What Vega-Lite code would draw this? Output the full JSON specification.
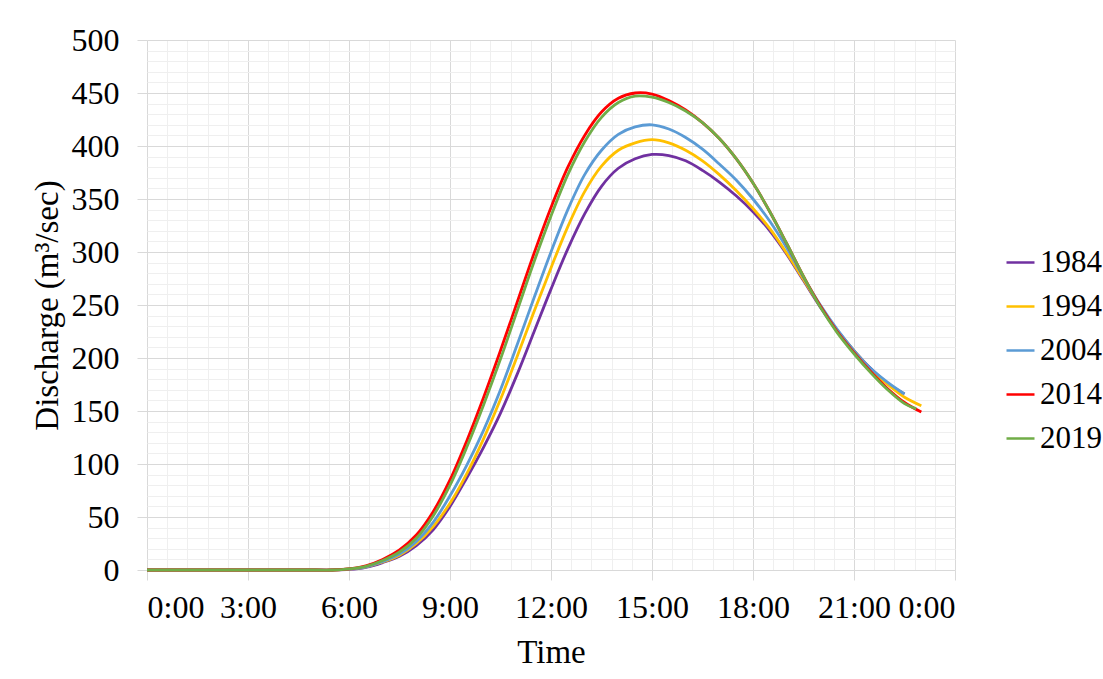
{
  "$schema": "https://vega.github.io/schema/vega-lite/v6.json",
  "autosize": {"type": "none"},
  "width": 808,
  "height": 530,
  "padding": {"left": 147, "top": 40, "right": 148, "bottom": 109},
  "background": "white",
  "config": {
    "view": {"stroke": null},
    "font": "Liberation Serif",
    "axis": {"labelFont": "Liberation Serif", "titleFont": "Liberation Serif", "labelColor": "#000", "titleColor": "#000", "labelFontSize": 32, "titleFontSize": 33, "titleFontWeight": "normal", "domain": false, "tickColor": "#d9d9d9", "tickSize": 10, "labelOverlap": false, "labelBound": false}
  },
  "data": {"values": [
    {"y":"1984","t":0,"q":0},{"y":"1984","t":5,"q":0},{"y":"1984","t":5.5,"q":0},{"y":"1984","t":6,"q":0.5},{"y":"1984","t":6.5,"q":2.5},{"y":"1984","t":7,"q":7},{"y":"1984","t":7.5,"q":13},{"y":"1984","t":8,"q":23},{"y":"1984","t":8.5,"q":38},{"y":"1984","t":9,"q":60},{"y":"1984","t":9.5,"q":87},{"y":"1984","t":10,"q":116},{"y":"1984","t":10.5,"q":148},{"y":"1984","t":11,"q":185},{"y":"1984","t":11.5,"q":225},{"y":"1984","t":12,"q":265},{"y":"1984","t":12.5,"q":303},{"y":"1984","t":13,"q":336},{"y":"1984","t":13.5,"q":362},{"y":"1984","t":14,"q":379},{"y":"1984","t":14.5,"q":388},{"y":"1984","t":15,"q":392},{"y":"1984","t":15.5,"q":391},{"y":"1984","t":16,"q":386},{"y":"1984","t":16.5,"q":377},{"y":"1984","t":17,"q":366},{"y":"1984","t":17.5,"q":353},{"y":"1984","t":18,"q":338},{"y":"1984","t":18.5,"q":320},{"y":"1984","t":19,"q":298},{"y":"1984","t":19.5,"q":273},{"y":"1984","t":20,"q":248},{"y":"1984","t":20.5,"q":226},{"y":"1984","t":21,"q":207},{"y":"1984","t":21.5,"q":190},{"y":"1984","t":22,"q":176},{"y":"1984","t":22.5,"q":166},
    {"y":"1994","t":0,"q":0},{"y":"1994","t":5,"q":0},{"y":"1994","t":5.5,"q":0},{"y":"1994","t":6,"q":1},{"y":"1994","t":6.5,"q":3},{"y":"1994","t":7,"q":7.5},{"y":"1994","t":7.5,"q":14},{"y":"1994","t":8,"q":25},{"y":"1994","t":8.5,"q":41},{"y":"1994","t":9,"q":63},{"y":"1994","t":9.5,"q":91},{"y":"1994","t":10,"q":124},{"y":"1994","t":10.5,"q":161},{"y":"1994","t":11,"q":202},{"y":"1994","t":11.5,"q":244},{"y":"1994","t":12,"q":285},{"y":"1994","t":12.5,"q":324},{"y":"1994","t":13,"q":357},{"y":"1994","t":13.5,"q":381},{"y":"1994","t":14,"q":396},{"y":"1994","t":14.5,"q":403},{"y":"1994","t":15,"q":406},{"y":"1994","t":15.5,"q":403},{"y":"1994","t":16,"q":396},{"y":"1994","t":16.5,"q":386},{"y":"1994","t":17,"q":373},{"y":"1994","t":17.5,"q":358},{"y":"1994","t":18,"q":341},{"y":"1994","t":18.5,"q":322},{"y":"1994","t":19,"q":299},{"y":"1994","t":19.5,"q":274},{"y":"1994","t":20,"q":249},{"y":"1994","t":20.5,"q":226},{"y":"1994","t":21,"q":207},{"y":"1994","t":21.5,"q":189},{"y":"1994","t":22,"q":175},{"y":"1994","t":22.5,"q":163},{"y":"1994","t":23,"q":155},
    {"y":"2004","t":0,"q":0},{"y":"2004","t":5,"q":0},{"y":"2004","t":5.5,"q":0},{"y":"2004","t":6,"q":1},{"y":"2004","t":6.5,"q":3},{"y":"2004","t":7,"q":8},{"y":"2004","t":7.5,"q":15},{"y":"2004","t":8,"q":27},{"y":"2004","t":8.5,"q":45},{"y":"2004","t":9,"q":70},{"y":"2004","t":9.5,"q":99},{"y":"2004","t":10,"q":132},{"y":"2004","t":10.5,"q":170},{"y":"2004","t":11,"q":213},{"y":"2004","t":11.5,"q":257},{"y":"2004","t":12,"q":300},{"y":"2004","t":12.5,"q":340},{"y":"2004","t":13,"q":373},{"y":"2004","t":13.5,"q":396},{"y":"2004","t":14,"q":411},{"y":"2004","t":14.5,"q":418},{"y":"2004","t":15,"q":420},{"y":"2004","t":15.5,"q":416},{"y":"2004","t":16,"q":408},{"y":"2004","t":16.5,"q":397},{"y":"2004","t":17,"q":383},{"y":"2004","t":17.5,"q":368},{"y":"2004","t":18,"q":350},{"y":"2004","t":18.5,"q":329},{"y":"2004","t":19,"q":304},{"y":"2004","t":19.5,"q":276},{"y":"2004","t":20,"q":250},{"y":"2004","t":20.5,"q":227},{"y":"2004","t":21,"q":207},{"y":"2004","t":21.5,"q":190},{"y":"2004","t":22,"q":177},{"y":"2004","t":22.5,"q":166},
    {"y":"2014","t":0,"q":0},{"y":"2014","t":5,"q":0},{"y":"2014","t":5.5,"q":0},{"y":"2014","t":6,"q":1},{"y":"2014","t":6.5,"q":4},{"y":"2014","t":7,"q":10},{"y":"2014","t":7.5,"q":19},{"y":"2014","t":8,"q":33},{"y":"2014","t":8.5,"q":55},{"y":"2014","t":9,"q":85},{"y":"2014","t":9.5,"q":122},{"y":"2014","t":10,"q":163},{"y":"2014","t":10.5,"q":207},{"y":"2014","t":11,"q":253},{"y":"2014","t":11.5,"q":299},{"y":"2014","t":12,"q":342},{"y":"2014","t":12.5,"q":380},{"y":"2014","t":13,"q":410},{"y":"2014","t":13.5,"q":432},{"y":"2014","t":14,"q":445},{"y":"2014","t":14.5,"q":450},{"y":"2014","t":15,"q":449},{"y":"2014","t":15.5,"q":443},{"y":"2014","t":16,"q":434},{"y":"2014","t":16.5,"q":422},{"y":"2014","t":17,"q":407},{"y":"2014","t":17.5,"q":388},{"y":"2014","t":18,"q":365},{"y":"2014","t":18.5,"q":338},{"y":"2014","t":19,"q":308},{"y":"2014","t":19.5,"q":277},{"y":"2014","t":20,"q":249},{"y":"2014","t":20.5,"q":225},{"y":"2014","t":21,"q":205},{"y":"2014","t":21.5,"q":187},{"y":"2014","t":22,"q":171},{"y":"2014","t":22.5,"q":158},{"y":"2014","t":23,"q":149},
    {"y":"2019","t":0,"q":0},{"y":"2019","t":5,"q":0},{"y":"2019","t":5.5,"q":0},{"y":"2019","t":6,"q":1},{"y":"2019","t":6.5,"q":3.5},{"y":"2019","t":7,"q":9},{"y":"2019","t":7.5,"q":17},{"y":"2019","t":8,"q":30},{"y":"2019","t":8.5,"q":51},{"y":"2019","t":9,"q":80},{"y":"2019","t":9.5,"q":116},{"y":"2019","t":10,"q":156},{"y":"2019","t":10.5,"q":199},{"y":"2019","t":11,"q":245},{"y":"2019","t":11.5,"q":291},{"y":"2019","t":12,"q":334},{"y":"2019","t":12.5,"q":373},{"y":"2019","t":13,"q":404},{"y":"2019","t":13.5,"q":427},{"y":"2019","t":14,"q":441},{"y":"2019","t":14.5,"q":447},{"y":"2019","t":15,"q":446},{"y":"2019","t":15.5,"q":441},{"y":"2019","t":16,"q":433},{"y":"2019","t":16.5,"q":422},{"y":"2019","t":17,"q":407},{"y":"2019","t":17.5,"q":388},{"y":"2019","t":18,"q":365},{"y":"2019","t":18.5,"q":338},{"y":"2019","t":19,"q":308},{"y":"2019","t":19.5,"q":277},{"y":"2019","t":20,"q":248},{"y":"2019","t":20.5,"q":224},{"y":"2019","t":21,"q":204},{"y":"2019","t":21.5,"q":186},{"y":"2019","t":22,"q":170},{"y":"2019","t":22.5,"q":157},{"y":"2019","t":22.85,"q":152}
  ]},
  "mark": {"type": "line", "interpolate": "catmull-rom", "strokeWidth": 2.8},
  "encoding": {
    "x": {
      "field": "t", "type": "quantitative",
      "scale": {"domain": [0, 24], "nice": false, "zero": false},
      "axis": {
        "title": "Time", "titlePadding": 13,
        "values": [0,0.6,1.2,1.8,2.4,3,3.6,4.2,4.8,5.4,6,6.6,7.2,7.8,8.4,9,9.6,10.2,10.8,11.4,12,12.6,13.2,13.8,14.4,15,15.6,16.2,16.8,17.4,18,18.6,19.2,19.8,20.4,21,21.6,22.2,22.8,23.4,24],
        "labelExpr": "datum.value % 3 === 0 ? (datum.value % 24) + ':00' : ''",
        "labelPadding": 12,
        "gridColor": {"condition": {"test": "datum.value % 3 === 0", "value": "#d9d9d9"}, "value": "#efefef"},
        "tickOpacity": {"condition": {"test": "datum.value % 3 === 0", "value": 1}, "value": 0}
      }
    },
    "y": {
      "field": "q", "type": "quantitative",
      "scale": {"domain": [0, 500], "nice": false},
      "axis": {
        "title": "Discharge (m³/sec)", "titlePadding": 7,
        "values": [0,10,20,30,40,50,60,70,80,90,100,110,120,130,140,150,160,170,180,190,200,210,220,230,240,250,260,270,280,290,300,310,320,330,340,350,360,370,380,390,400,410,420,430,440,450,460,470,480,490,500],
        "labelExpr": "datum.value % 50 === 0 ? datum.value : ''",
        "labelPadding": 18,
        "gridColor": {"condition": {"test": "datum.value % 50 === 0", "value": "#d9d9d9"}, "value": "#efefef"},
        "tickOpacity": {"condition": {"test": "datum.value % 50 === 0", "value": 1}, "value": 0}
      }
    },
    "color": {
      "field": "y", "type": "nominal",
      "scale": {"domain": ["1984","1994","2004","2014","2019"], "range": ["#7030a0","#ffc000","#5b9bd5","#ff0000","#70ad47"]},
      "legend": {"title": null, "orient": "none", "legendX": 858, "legendY": 207, "padding": 0, "labelFont": "Liberation Serif", "labelFontSize": 31, "labelColor": "#000", "symbolType": "stroke", "symbolSize": 784, "symbolStrokeWidth": 2.5, "rowPadding": 12, "labelOffset": 4}
    },
    "order": {"field": "y"}
  }
}
